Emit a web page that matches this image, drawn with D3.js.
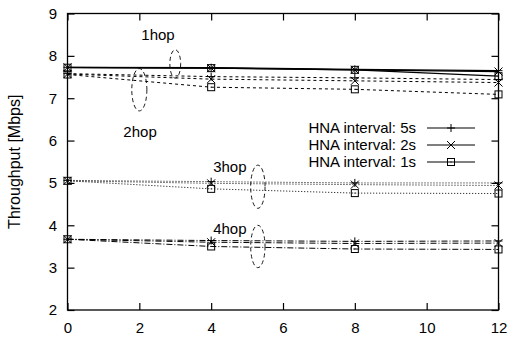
<!DOCTYPE html>
<html>
<head>
<meta charset="utf-8">
<script src="https://cdn.jsdelivr.net/npm/d3@7"></script>
<style>
html,body{margin:0;padding:0;background:#fff;}
svg{display:block;}
text{font-family:"Liberation Sans",Arial,Helvetica,sans-serif;fill:#000;}
</style>
</head>
<body>
<svg id="chart" width="512" height="342"></svg>
<script>
// ---- data ----
const xValues = [0, 4, 8, 12];
const intervals = ["5s", "2s", "1s"];
const hops = ["1hop", "2hop", "3hop", "4hop"];
// throughput [Mbps] per hop group, per HNA interval (5s, 2s, 1s)
const hop1_5s = [7.73, 7.72, 7.68, 7.65];
const hop1_2s = [7.73, 7.71, 7.67, 7.63];
const hop1_1s = [7.72, 7.71, 7.67, 7.52];
const hop2_5s = [7.58, 7.51, 7.48, 7.44];
const hop2_2s = [7.57, 7.45, 7.41, 7.37];
const hop2_1s = [7.56, 7.26, 7.21, 7.09];
const hop3_5s = [5.06, 5.03, 5.00, 5.00];
const hop3_2s = [5.05, 4.99, 4.96, 4.94];
const hop3_1s = [5.05, 4.86, 4.76, 4.75];
const hop4_5s = [3.67, 3.64, 3.62, 3.63];
const hop4_2s = [3.67, 3.60, 3.57, 3.58];
const hop4_1s = [3.67, 3.50, 3.44, 3.43];
const xTicks = [0, 2, 4, 6, 8, 10, 12];
const yTicks = [2, 3, 4, 5, 6, 7, 8, 9];
const yLabel = "Throughput [Mbps]";
const legendLabels = ["HNA interval: 5s", "HNA interval: 2s", "HNA interval: 1s"];
// annotation positions in data units
const hopLabelX = [2.52, 2.02, 4.52, 4.52];
const hopLabelY = [8.37, 6.08, 5.25, 3.79];
const ellipseCX = [3.0, 2.0, 5.3, 5.3];
const ellipseCY = [7.81, 7.20, 4.91, 3.50];
const ellipseRX = [0.15, 0.21, 0.20, 0.20];
const ellipseRY = [0.335, 0.50, 0.51, 0.50];

const groups = [
  [hop1_5s, hop1_2s, hop1_1s],
  [hop2_5s, hop2_2s, hop2_1s],
  [hop3_5s, hop3_2s, hop3_1s],
  [hop4_5s, hop4_2s, hop4_1s]
];
const dashes = [null, "3,3", "1,2", "6,2,1,2"];

// ---- layout ----
const L = 67.5, R = 498.5, T = 13.5, B = 310;
const x = d3.scaleLinear().domain([0, 12]).range([L, R]);
const y = d3.scaleLinear().domain([2, 9]).range([B, T]);
const svg = d3.select("#chart");
const FS = 15;

// border
svg.append("rect").attr("x", L).attr("y", T).attr("width", R - L).attr("height", B - T)
  .attr("fill", "none").attr("stroke", "#000").attr("stroke-width", 1.3);

const tickLen = 7;
// axes with inward ticks
const gx = svg.append("g").attr("transform", `translate(0,${B})`)
  .call(d3.axisBottom(x).tickValues(xTicks).tickSizeInner(-tickLen).tickSizeOuter(0).tickPadding(12).tickFormat(d3.format("d")));
const gxt = svg.append("g").attr("transform", `translate(0,${T})`)
  .call(d3.axisTop(x).tickValues(xTicks).tickSizeInner(-tickLen).tickSizeOuter(0).tickFormat(""));
const gy = svg.append("g").attr("transform", `translate(${L},0)`)
  .call(d3.axisLeft(y).tickValues(yTicks).tickSizeInner(-tickLen).tickSizeOuter(0).tickPadding(10.5).tickFormat(d3.format("d")));
const gyr = svg.append("g").attr("transform", `translate(${R},0)`)
  .call(d3.axisRight(y).tickValues(yTicks).tickSizeInner(-tickLen).tickSizeOuter(0).tickFormat(""));
[gx, gxt, gy, gyr].forEach(g => {
  g.select(".domain").remove();
  g.selectAll("line").attr("stroke", "#000").attr("stroke-width", 1.2);
  g.selectAll("text").attr("font-size", FS).attr("font-family", "Liberation Sans, Arial, sans-serif").attr("fill", "#000");
});

// y axis title
svg.append("text").attr("transform", `translate(20,${(T + B) / 2}) rotate(-90)`)
  .attr("text-anchor", "middle").attr("font-size", 16).text(yLabel);

// markers
function marker(g, type, cx, cy) {
  const h = 4;
  if (type === 0) {
    g.append("path").attr("d", `M${cx - h},${cy}H${cx + h}M${cx},${cy - h}V${cy + h}`)
      .attr("stroke", "#000").attr("stroke-width", 1).attr("fill", "none");
  } else if (type === 1) {
    g.append("path").attr("d", `M${cx - h},${cy - h}L${cx + h},${cy + h}M${cx - h},${cy + h}L${cx + h},${cy - h}`)
      .attr("stroke", "#000").attr("stroke-width", 1).attr("fill", "none");
  } else {
    g.append("rect").attr("x", cx - 3.5).attr("y", cy - 3.5).attr("width", 7).attr("height", 7)
      .attr("stroke", "#000").attr("stroke-width", 1).attr("fill", "none");
    g.append("rect").attr("x", cx - 0.5).attr("y", cy - 0.5).attr("width", 1).attr("height", 1).attr("fill", "#000");
  }
}

const line = d3.line().x((d, i) => x(xValues[i])).y(d => y(d));
const plot = svg.append("g");
groups.forEach((grp, gi) => {
  grp.forEach((vals, si) => {
    plot.append("path").datum(vals).attr("d", line)
      .attr("fill", "none").attr("stroke", "#000")
      .attr("stroke-width", gi === 0 ? 1.3 : 1)
      .attr("stroke-dasharray", dashes[gi]);
  });
});
groups.forEach((grp, gi) => {
  grp.forEach((vals, si) => {
    vals.forEach((v, i) => marker(plot, si, x(xValues[i]), y(v)));
  });
});

// ellipses and hop labels
hops.forEach((h, i) => {
  svg.append("ellipse")
    .attr("cx", x(ellipseCX[i])).attr("cy", y(ellipseCY[i]))
    .attr("rx", x(ellipseCX[i] + ellipseRX[i]) - x(ellipseCX[i]))
    .attr("ry", y(ellipseCY[i]) - y(ellipseCY[i] + ellipseRY[i]))
    .attr("fill", "none").attr("stroke", "#000").attr("stroke-width", 0.9)
    .attr("stroke-dasharray", "4,3");
  svg.append("text").attr("x", x(hopLabelX[i])).attr("y", y(hopLabelY[i]))
    .attr("text-anchor", "middle").attr("font-size", FS).text(h);
});

// legend
const legY = [128, 145, 162];
legendLabels.forEach((lab, i) => {
  svg.append("text").attr("x", 416).attr("y", legY[i] + 5)
    .attr("text-anchor", "end").attr("font-size", FS).text(lab);
  svg.append("line").attr("x1", 427).attr("x2", 475).attr("y1", legY[i]).attr("y2", legY[i])
    .attr("stroke", "#000").attr("stroke-width", 1.2);
  marker(svg, i, 451, legY[i]);
});
</script>
</body>
</html>
